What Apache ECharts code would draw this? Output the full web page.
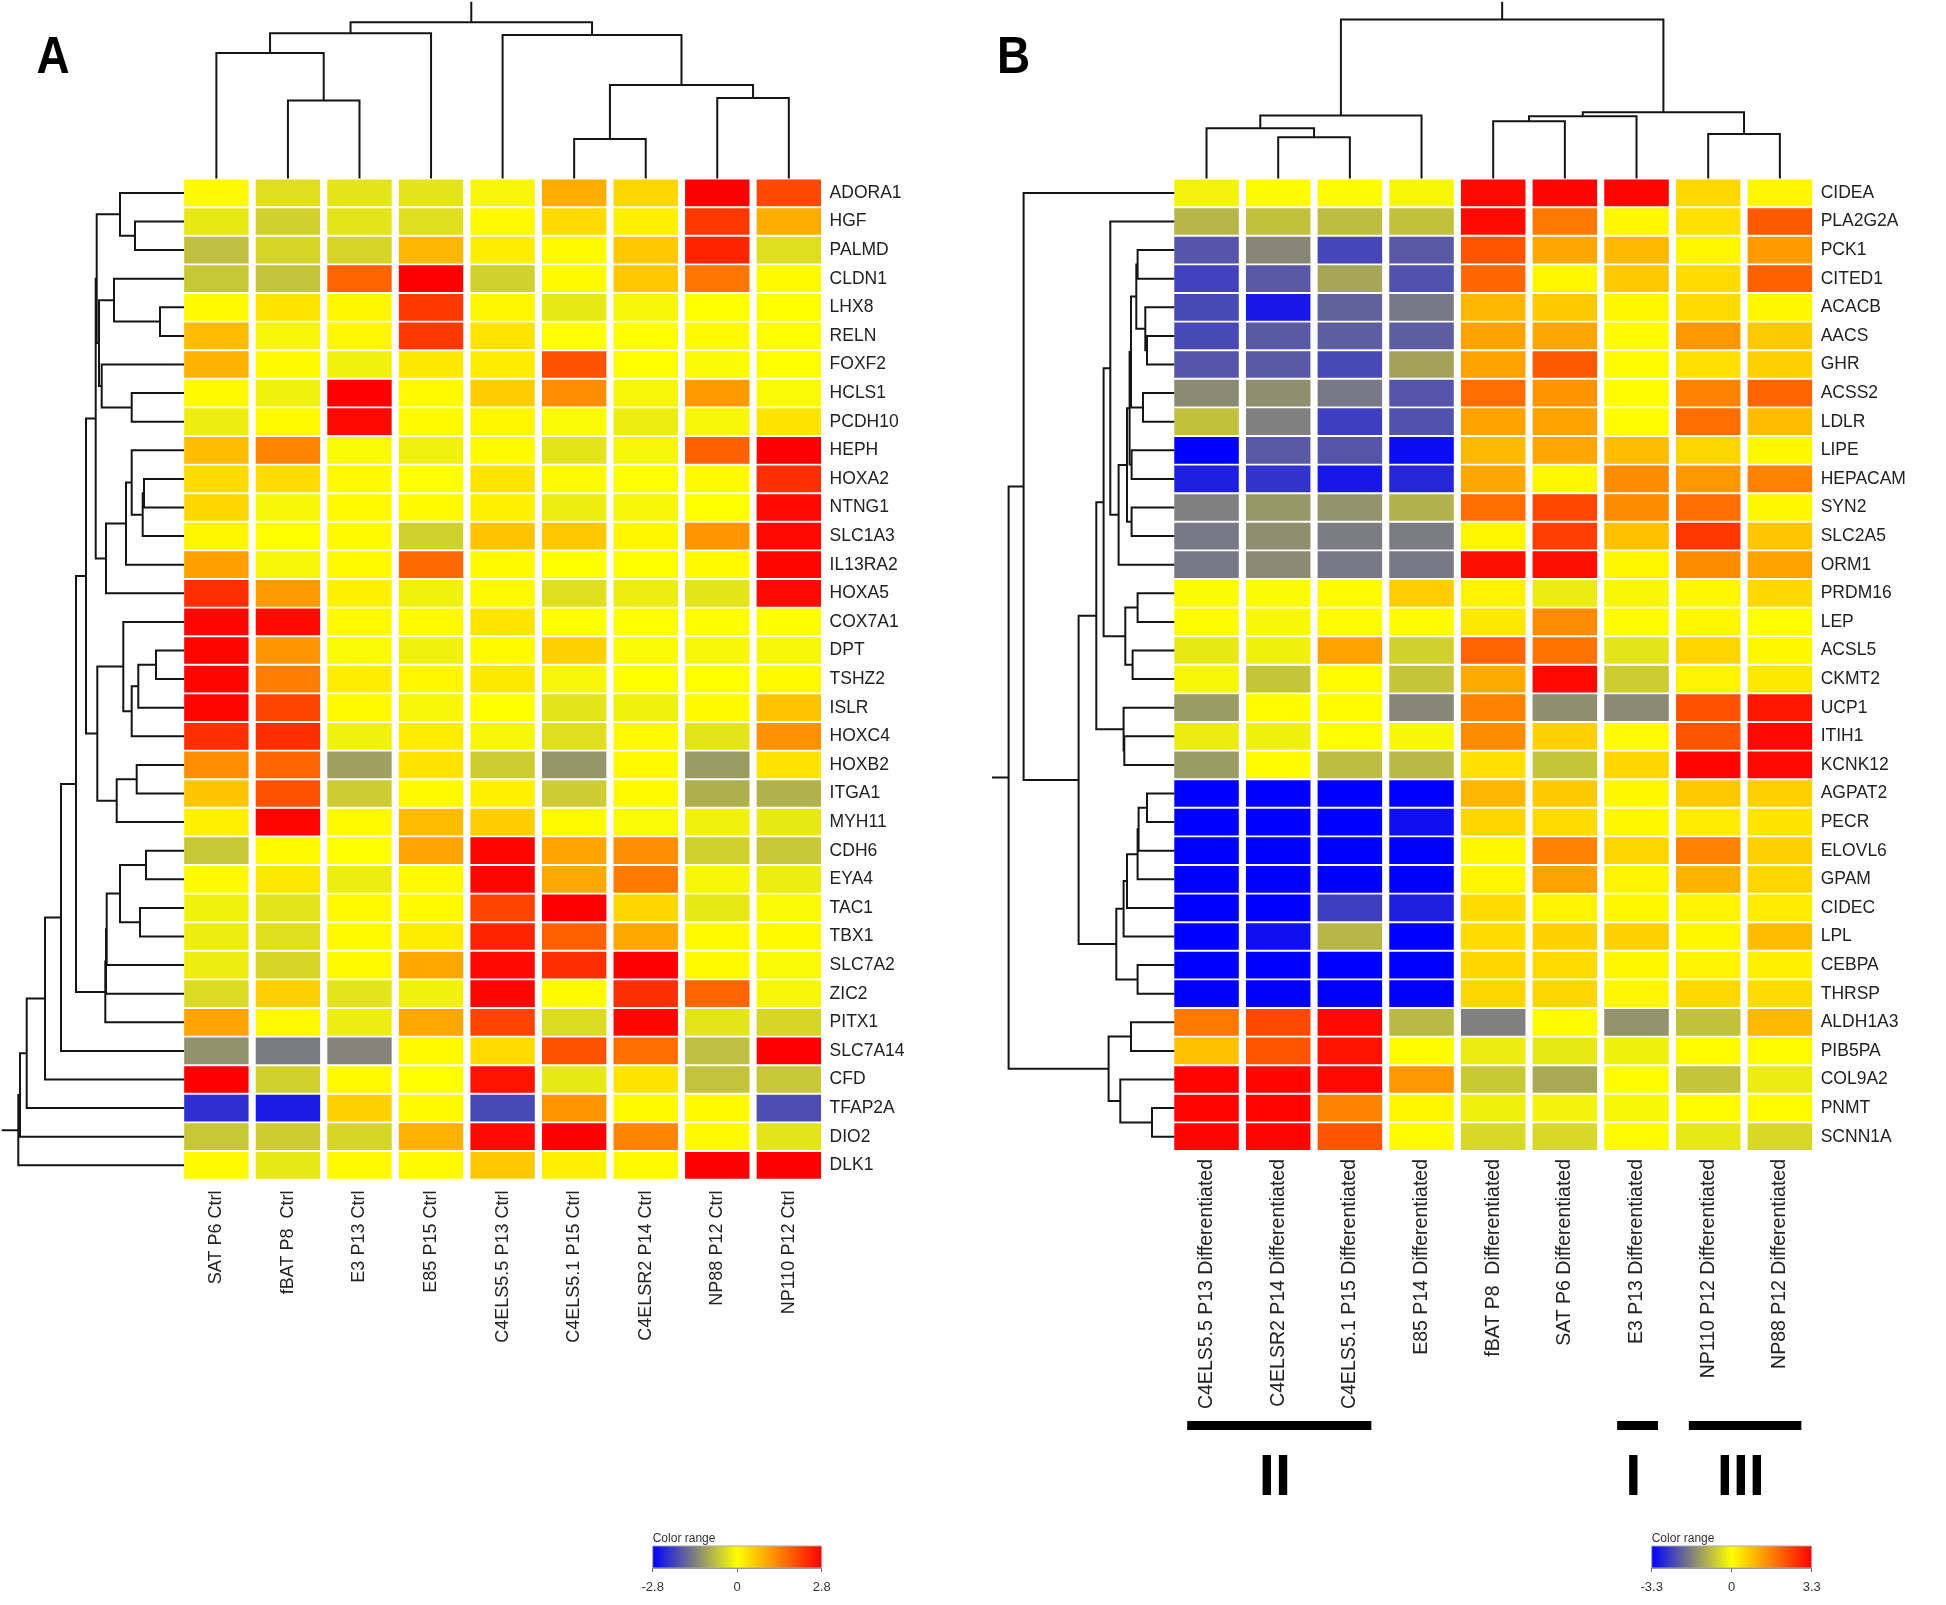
<!DOCTYPE html>
<html><head><meta charset="utf-8">
<script src="https://cdn.jsdelivr.net/npm/echarts@6/dist/echarts.min.js"></script>
<style>html,body{margin:0;padding:0;background:#fff}#c{width:1946px;height:1605px}</style>
</head><body><div id="c"></div>
<script>
// ---------------- DATA ----------------
const colsA = ['SAT P6 Ctrl','fBAT P8  Ctrl','E3 P13 Ctrl','E85 P15 Ctrl','C4ELS5.5 P13 Ctrl','C4ELS5.1 P15 Ctrl','C4ELSR2 P14 Ctrl','NP88 P12 Ctrl','NP110 P12 Ctrl'];
const rowsA = ['ADORA1','HGF','PALMD','CLDN1','LHX8','RELN','FOXF2','HCLS1','PCDH10','HEPH','HOXA2','NTNG1','SLC1A3','IL13RA2','HOXA5','COX7A1','DPT','TSHZ2','ISLR','HOXC4','HOXB2','ITGA1','MYH11','CDH6','EYA4','TAC1','TBX1','SLC7A2','ZIC2','PITX1','SLC7A14','CFD','TFAP2A','DIO2','DLK1'];
const valuesA = [
  [0.05,-0.35,-0.3,-0.3,-0.1,0.9,0.45,2.8,2.0],
  [-0.25,-0.5,-0.3,-0.35,0.05,0.4,0.15,2.2,0.9],
  [-0.7,-0.45,-0.45,0.8,0.2,0.05,0.6,2.4,-0.35],
  [-0.6,-0.65,1.7,2.8,-0.5,0.05,0.6,1.5,0.05],
  [0.05,0.3,0.1,2.2,0.1,-0.25,-0.1,0.0,0.0],
  [0.75,-0.1,0.1,2.2,0.3,0.0,0.0,0.05,0.0],
  [0.85,0.05,-0.15,0.25,0.2,1.9,0.0,-0.05,0.0],
  [0.05,-0.15,2.8,0.05,0.55,1.25,-0.1,1.1,-0.05],
  [-0.2,0.05,2.7,0.05,0.1,-0.05,-0.2,-0.1,0.3],
  [0.7,1.35,-0.05,-0.15,0.05,-0.3,-0.1,1.75,2.8],
  [0.4,0.4,0.05,0.0,0.3,0.05,0.0,0.05,2.3],
  [0.45,-0.1,0.05,0.05,0.15,-0.2,-0.1,0.0,2.7],
  [0.1,0.0,0.05,-0.5,0.65,0.6,0.1,1.15,2.7],
  [1.05,-0.1,0.05,1.65,0.05,0.0,0.0,0.05,2.75],
  [2.3,1.1,0.15,-0.15,0.05,-0.35,-0.2,-0.3,2.7],
  [2.75,2.7,0.05,0.05,0.3,0.0,0.0,0.0,0.0],
  [2.75,1.15,-0.05,-0.15,0.05,0.5,-0.05,-0.1,-0.1],
  [2.75,1.4,0.2,0.1,0.25,-0.1,0.0,0.0,0.05],
  [2.75,2.05,0.05,-0.1,0.0,-0.3,-0.15,0.05,0.65],
  [2.3,2.3,-0.15,0.2,-0.1,-0.35,0.05,-0.3,1.2],
  [1.25,1.7,-1.05,0.3,-0.55,-1.15,0.05,-1.1,0.3],
  [0.65,1.9,-0.55,0.05,0.15,-0.55,0.05,-0.88,-0.85],
  [0.15,2.75,0.05,0.75,0.55,0.05,-0.05,-0.15,-0.25],
  [-0.6,0.05,0.0,1.0,2.75,1.0,1.25,-0.5,-0.6],
  [0.05,0.25,-0.2,0.05,2.75,0.95,1.45,-0.1,-0.2],
  [-0.15,-0.3,0.05,0.05,2.05,2.8,0.45,-0.25,-0.05],
  [-0.2,-0.35,0.05,0.2,2.4,1.75,0.95,0.05,0.05],
  [-0.2,-0.45,0.05,0.95,2.7,2.3,2.8,0.05,-0.05],
  [-0.4,0.5,-0.3,-0.15,2.75,0.05,2.3,1.7,-0.1],
  [1.0,0.05,-0.2,0.95,2.05,-0.4,2.75,-0.3,-0.45],
  [-1.2,-1.45,-1.35,0.05,0.4,1.9,1.6,-0.7,2.8],
  [2.8,-0.5,0.05,0.0,2.6,-0.25,0.3,-0.65,-0.6],
  [-2.3,-2.5,0.5,0.05,-2.0,1.15,0.05,0.05,-1.95],
  [-0.6,-0.55,-0.45,0.85,2.7,2.8,1.35,0.05,-0.3],
  [0.05,-0.25,0.05,0.05,0.6,0.15,0.05,2.8,2.8]
];
// dendrogram merges: [childA, childB, height]; leaves are 0..n-1, merge k gets id n+k
const colTreeA = [[1,2,78],[0,9,125.7],[10,3,145.3],[5,6,39.7],[7,8,80.7],[12,13,93.7],[4,14,143.7],[11,15,156.3]];
const rowTreeA = [[1,2,49],[0,35,64],[4,5,24],[3,37,70],[7,8,52.3],[6,39,82.3],[38,40,85],[36,41,87.3],
  [10,11,40],[43,12,41.3],[9,44,52.3],[45,13,58],[46,14,78],[42,47,88.3],
  [16,17,28],[49,18,45.7],[50,19,52.3],[15,51,60.7],[20,21,47.3],[53,22,67.3],[52,54,86.7],[48,55,98],
  [23,24,38],[25,26,44],[57,58,64],[59,27,77.3],[60,28,78],[61,29,78.7],[56,62,108],
  [63,30,123],[64,31,139],[65,32,157.3],[66,33,164],[67,34,165.7]];

const colsB = ['C4ELS5.5 P13 Differentiated','C4ELSR2 P14 Differentiated','C4ELS5.1 P15 Differentiated','E85 P14 Differentiated','fBAT P8  Differentiated','SAT P6 Differentiated','E3 P13 Differentiated','NP110 P12 Differentiated','NP88 P12 Differentiated'];
const rowsB = ['CIDEA','PLA2G2A','PCK1','CITED1','ACACB','AACS','GHR','ACSS2','LDLR','LIPE','HEPACAM','SYN2','SLC2A5','ORM1','PRDM16','LEP','ACSL5','CKMT2','UCP1','ITIH1','KCNK12','AGPAT2','PECR','ELOVL6','GPAM','CIDEC','LPL','CEBPA','THRSP','ALDH1A3','PIB5PA','COL9A2','PNMT','SCNN1A'];
const valuesB = [
  [-0.15,0.05,0.05,-0.1,3.2,3.25,3.25,0.5,0.1],
  [-0.95,-0.8,-0.85,-0.8,3.2,1.75,0.1,0.4,2.15],
  [-2.2,-1.55,-2.4,-2.15,2.2,1.15,0.9,0.1,1.3],
  [-2.45,-2.15,-1.15,-2.25,1.95,0.1,0.7,0.45,2.05],
  [-2.35,-3.0,-2.05,-1.75,0.95,0.7,0.1,0.45,0.1],
  [-2.35,-2.15,-2.1,-2.1,1.2,1.15,0.05,1.35,0.7],
  [-2.2,-2.15,-2.35,-1.2,1.2,2.15,0.05,0.4,0.6],
  [-1.5,-1.45,-1.75,-2.2,1.9,1.4,0.05,1.6,2.0],
  [-0.8,-1.65,-2.5,-2.25,1.2,1.2,0.05,1.9,0.85],
  [-3.3,-2.15,-2.2,-3.15,0.9,1.15,0.85,0.55,0.1],
  [-2.9,-2.65,-3.0,-2.8,1.15,0.1,1.5,1.35,1.6],
  [-1.65,-1.35,-1.4,-1.0,1.9,2.4,1.5,1.9,0.1],
  [-1.75,-1.45,-1.7,-1.7,0.1,2.5,0.8,2.6,0.75],
  [-1.75,-1.5,-1.75,-1.75,3.1,3.1,0.1,1.5,1.2],
  [-0.05,-0.05,0.05,0.65,0.15,-0.25,-0.1,0.1,0.5],
  [0.05,-0.1,0.05,0.05,0.3,1.5,0.05,0.1,0.0],
  [-0.3,-0.2,1.2,-0.6,2.0,1.8,-0.35,0.55,0.1],
  [-0.1,-0.75,0.05,-0.75,1.1,3.2,-0.65,0.15,0.3],
  [-1.3,0.05,0.05,-1.55,1.6,-1.45,-1.5,2.25,3.0],
  [-0.25,-0.2,0.0,-0.1,1.5,0.6,0.05,2.2,3.2],
  [-1.3,0.05,-0.85,-0.9,0.4,-0.75,0.5,3.25,3.2],
  [-3.3,-3.3,-3.3,-3.3,0.95,0.7,0.1,0.7,0.6],
  [-3.3,-3.3,-3.3,-3.1,0.55,0.45,0.1,0.25,0.35],
  [-3.3,-3.3,-3.3,-3.3,0.1,1.6,0.55,1.6,0.6],
  [-3.3,-3.3,-3.3,-3.3,0.1,1.2,0.15,1.0,0.55],
  [-3.3,-3.3,-2.5,-2.9,0.45,0.15,0.1,0.15,0.25],
  [-3.3,-3.1,-0.95,-3.3,0.45,0.6,0.6,0.1,0.85],
  [-3.3,-3.3,-3.3,-3.3,0.55,0.45,0.1,0.15,0.2],
  [-3.3,-3.3,-3.3,-3.3,0.55,0.55,0.1,0.5,0.45],
  [1.75,2.35,3.2,-0.9,-1.65,0.05,-1.4,-0.8,0.9],
  [0.8,2.2,3.05,0.05,-0.25,-0.3,-0.2,0.05,0.05],
  [3.25,3.25,3.2,1.35,-0.7,-1.1,0.05,-0.75,-0.25],
  [3.25,3.25,1.6,0.1,-0.2,-0.15,-0.1,0.05,0.05],
  [3.25,3.25,2.2,0.05,-0.5,-0.5,0.05,-0.3,-0.5]
];
const colTreeB = [[1,2,41.3],[0,9,50.3],[10,3,63],[4,5,57.3],[12,6,62.3],[7,8,44.7],[13,14,66.3],[11,15,159]];
const rowTreeB = [[5,6,27.3],[4,34,29],[2,3,36.7],[36,35,38],[7,8,31.3],[37,38,43.3],[9,10,42.7],[39,40,44.7],
  [11,12,42.7],[41,42,47.3],[43,13,55.7],[1,44,64],[14,15,36.7],[16,17,41.7],[46,47,49],[45,48,70.7],
  [19,20,50],[18,50,50.7],[49,51,78],[21,22,27.3],[53,23,35.7],[54,24,36.7],[55,25,47.3],[56,26,50.7],
  [27,28,36.7],[57,58,58],[52,59,95.7],[0,60,150.7],[29,30,43.3],[32,33,22.3],[31,63,54],[62,64,65.7],[61,65,165.7]];
const clustersB = [{label:'II', from:0, to:2},{label:'I', from:6, to:6},{label:'III', from:7, to:8}];
const rangeA = 2.8, rangeB = 3.3;
const COLORS = ['#0000ff','#ffff00','#ff0000'];

// ---------------- HELPERS ----------------
function flat(vals){ const out=[]; vals.forEach((row,r)=>row.forEach((v,c)=>out.push([c,r,v]))); return out; }
function layoutTree(n, links, stubH){
  const pos=[], ht=[];
  for(let i=0;i<n;i++){pos.push(i);ht.push(0);}
  const items=[];
  links.forEach(l=>{ const a=l[0],b=l[1],h=l[2]; items.push([pos[a],pos[b],h,ht[a],ht[b]]); pos.push((pos[a]+pos[b])/2); ht.push(h); });
  const rp=pos[pos.length-1], rh=ht[ht.length-1];
  items.push([rp,rp,stubH,rh,rh]);
  return items;
}
function cell(gx, gy){ return function(params, api){
  const c=api.coord([api.value(0),api.value(1)]); const s=api.size([1,1]);
  return {type:'rect', shape:{x:c[0]-s[0]/2+gx/2, y:c[1]-s[1]/2+gy/2, width:s[0]-gx, height:s[1]-gy}, style:{fill:api.visual('color')}};
};}
function dendro(orient){ return function(params, api){
  const p1=api.value(0),p2=api.value(1),h=api.value(2),h1=api.value(3),h2=api.value(4);
  const P = orient==='top' ? (p,hh)=>api.coord([p,hh]) : (p,hh)=>api.coord([hh,p]);
  return {type:'polyline', shape:{points:[P(p1,h1),P(p1,h),P(p2,h),P(p2,h2)]}, style:{stroke:'#151515', lineWidth:2, fill:'none'}};
};}
function legendBar(params, api){
  const a=api.coord([api.value(0),1]), b=api.coord([api.value(1),0]);
  return {type:'rect', shape:{x:a[0],y:a[1],width:b[0]-a[0],height:b[1]-a[1]},
    style:{fill:new echarts.graphic.LinearGradient(0,0,1,0,COLORS.map((c,i)=>({offset:i/(COLORS.length-1),color:c}))), stroke:'#aaa', lineWidth:1}};
}
function clusterBar(params, api){
  const c=clustersB[params.dataIndex];
  const p0=api.coord([api.value(0),0]), p1=api.coord([api.value(1),0]);
  const bw=api.size([1,0])[0];
  const x0=p0[0]-0.27*bw, x1=p1[0]+0.3*bw, top=params.coordSys.y;
  return {type:'group', children:[
    {type:'rect', shape:{x:x0,y:top,width:x1-x0,height:9}, style:{fill:'#000'}},
    {type:'text', style:{text:c.label, x:(x0+x1)/2-0.06*bw, y:top+58, align:'center', verticalAlign:'middle', font:'bold 58px "Liberation Sans", Arial, sans-serif', fill:'#000'}}
  ]};
}
const lblFmt = v => Math.abs(v)<1e-9 ? '0' : v.toFixed(1);
const hid = (o)=>Object.assign({show:false},o);

// ---------------- LAYOUT ----------------
const HA = {left:180.6, top:178.6, width:644, height:1001};
const HB = {left:1170.7, top:178.6, width:645, height:972.4};

const option = {
  animation:false,
  backgroundColor:'#fff',
  grid:[
    HA,
    {left:HA.left, top:0, width:HA.width, height:HA.top},
    {left:0, top:HA.top, width:184, height:HA.height},
    {left:652.7, top:1546, width:169, height:22},
    HB,
    {left:HB.left, top:0, width:HB.width, height:HB.top},
    {left:990, top:HB.top, width:184.3, height:HB.height},
    {left:1651.7, top:1546, width:160, height:22},
    {left:HB.left, top:1421, width:HB.width, height:90}
  ],
  xAxis:[
    {type:'category', gridIndex:0, data:colsA, position:'bottom', axisLine:{show:false}, axisTick:{show:false}, splitLine:{show:false},
      axisLabel:{rotate:90, margin:11, fontSize:18, color:'#222', fontFamily:'Liberation Sans'}},
    hid({type:'value', gridIndex:1, min:-0.5, max:colsA.length-0.5}),
    hid({type:'value', gridIndex:2, min:0, max:184, inverse:true}),
    {type:'value', gridIndex:3, min:-rangeA, max:rangeA, interval:rangeA, splitLine:{show:false},
      axisLine:{show:true, lineStyle:{color:'#888'}}, axisTick:{show:true, length:4, lineStyle:{color:'#666'}},
      axisLabel:{margin:13, fontSize:13, color:'#333', formatter:lblFmt, fontFamily:'Liberation Sans'}},
    {type:'category', gridIndex:4, data:colsB, position:'bottom', axisLine:{show:false}, axisTick:{show:false}, splitLine:{show:false},
      axisLabel:{rotate:90, margin:8, fontSize:19.5, color:'#222', fontFamily:'Liberation Sans'}},
    hid({type:'value', gridIndex:5, min:-0.5, max:colsB.length-0.5}),
    hid({type:'value', gridIndex:6, min:0, max:184.3, inverse:true}),
    {type:'value', gridIndex:7, min:-rangeB, max:rangeB, interval:rangeB, splitLine:{show:false},
      axisLine:{show:true, lineStyle:{color:'#888'}}, axisTick:{show:true, length:4, lineStyle:{color:'#666'}},
      axisLabel:{margin:13, fontSize:13, color:'#333', formatter:lblFmt, fontFamily:'Liberation Sans'}},
    hid({type:'category', gridIndex:8, data:colsB})
  ],
  yAxis:[
    {type:'category', gridIndex:0, data:rowsA, inverse:true, position:'right', axisLine:{show:false}, axisTick:{show:false}, splitLine:{show:false},
      axisLabel:{margin:5, fontSize:17.5, color:'#222', fontFamily:'Liberation Sans'}},
    hid({type:'value', gridIndex:1, min:0, max:HA.top}),
    hid({type:'value', gridIndex:2, min:-0.5, max:rowsA.length-0.5, inverse:true}),
    hid({type:'value', gridIndex:3, min:0, max:1}),
    {type:'category', gridIndex:4, data:rowsB, inverse:true, position:'right', axisLine:{show:false}, axisTick:{show:false}, splitLine:{show:false},
      axisLabel:{margin:5, fontSize:17.5, color:'#222', fontFamily:'Liberation Sans'}},
    hid({type:'value', gridIndex:5, min:0, max:HB.top}),
    hid({type:'value', gridIndex:6, min:-0.5, max:rowsB.length-0.5, inverse:true}),
    hid({type:'value', gridIndex:7, min:0, max:1}),
    hid({type:'value', gridIndex:8, min:0, max:1})
  ],
  visualMap:[
    {type:'continuous', show:false, seriesIndex:0, dimension:2, min:-rangeA, max:rangeA, inRange:{color:COLORS}},
    {type:'continuous', show:false, seriesIndex:4, dimension:2, min:-rangeB, max:rangeB, inRange:{color:COLORS}}
  ],
  series:[
    {type:'custom', xAxisIndex:0, yAxisIndex:0, data:flat(valuesA), renderItem:cell(7.15,1.9), encode:{x:0,y:1}},
    {type:'custom', xAxisIndex:1, yAxisIndex:1, data:layoutTree(colsA.length,colTreeA,176.8), renderItem:dendro('top'), encode:{x:[0,1],y:[2,3,4]}},
    {type:'custom', xAxisIndex:2, yAxisIndex:2, data:layoutTree(rowsA.length,rowTreeA,182.3), renderItem:dendro('left'), encode:{x:[2,3,4],y:[0,1]}},
    {type:'custom', xAxisIndex:3, yAxisIndex:3, data:[[-rangeA,rangeA]], renderItem:legendBar, encode:{x:[0,1]}},
    {type:'custom', xAxisIndex:4, yAxisIndex:4, data:flat(valuesB), renderItem:cell(7.15,1.9), encode:{x:0,y:1}},
    {type:'custom', xAxisIndex:5, yAxisIndex:5, data:layoutTree(colsB.length,colTreeB,176.8), renderItem:dendro('top'), encode:{x:[0,1],y:[2,3,4]}},
    {type:'custom', xAxisIndex:6, yAxisIndex:6, data:layoutTree(rowsB.length,rowTreeB,182.3), renderItem:dendro('left'), encode:{x:[2,3,4],y:[0,1]}},
    {type:'custom', xAxisIndex:7, yAxisIndex:7, data:[[-rangeB,rangeB]], renderItem:legendBar, encode:{x:[0,1]}},
    {type:'custom', xAxisIndex:8, yAxisIndex:8, data:clustersB.map(c=>[c.from,c.to]), renderItem:clusterBar, encode:{x:[0,1]}}
  ],
  graphic:[
    {type:'text', x:53, y:58.5, scaleX:0.9, style:{text:'A', font:'bold 51px "Liberation Sans", Arial, sans-serif', align:'center', verticalAlign:'middle', fill:'#000'}},
    {type:'text', x:1013.5, y:59, scaleX:0.9, style:{text:'B', font:'bold 51px "Liberation Sans", Arial, sans-serif', align:'center', verticalAlign:'middle', fill:'#000'}},
    {type:'text', x:652.7, y:1539, style:{text:'Color range', font:'12px "Liberation Sans", Arial, sans-serif', align:'left', verticalAlign:'middle', fill:'#333'}},
    {type:'text', x:1651.7, y:1539, style:{text:'Color range', font:'12px "Liberation Sans", Arial, sans-serif', align:'left', verticalAlign:'middle', fill:'#333'}}
  ]
};
const chart = echarts.init(document.getElementById('c'), null, {renderer:'canvas'});
chart.setOption(option);
</script>
</body></html>
